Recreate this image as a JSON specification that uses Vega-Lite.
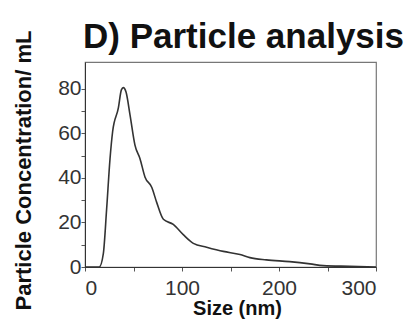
{
  "$schema": "https://vega.github.io/schema/vega-lite/v6.json",
  "width": 291,
  "height": 205,
  "autosize": "none",
  "padding": {"left": 85, "top": 62, "right": 40, "bottom": 54},
  "background": "white",
  "title": {
    "text": "D) Particle analysis",
    "anchor": "start",
    "frame": "group",
    "font": "Liberation Sans",
    "fontSize": 35,
    "fontWeight": "bold",
    "color": "#111111",
    "offset": -25,
    "dx": -2
  },
  "config": {
    "view": {"stroke": "#777777", "strokeWidth": 1.2},
    "axis": {
      "grid": false,
      "labelFont": "Liberation Sans",
      "titleFont": "Liberation Sans",
      "labelFontSize": 21,
      "labelColor": "#333333",
      "titleFontWeight": "bold",
      "titleColor": "#111111",
      "domainColor": "#333333",
      "tickColor": "#555555",
      "tickSize": 4
    }
  },
  "data": {
    "values": [
      {"size": 0, "conc": 0},
      {"size": 14.7, "conc": 0},
      {"size": 18.9, "conc": 6},
      {"size": 22.3, "conc": 26},
      {"size": 25.8, "conc": 48.6},
      {"size": 28.5, "conc": 60.8},
      {"size": 34.4, "conc": 71.4},
      {"size": 37.5, "conc": 79.5},
      {"size": 39.5, "conc": 80.5},
      {"size": 42.3, "conc": 78.5},
      {"size": 46.4, "conc": 68.3},
      {"size": 51.5, "conc": 54.7},
      {"size": 56.7, "conc": 48.6},
      {"size": 61.9, "conc": 40.3},
      {"size": 68.8, "conc": 35.8},
      {"size": 73.9, "conc": 29},
      {"size": 80.8, "conc": 21.4},
      {"size": 91, "conc": 19.1},
      {"size": 101.3, "conc": 14.5},
      {"size": 111.7, "conc": 10.6},
      {"size": 125.4, "conc": 8.9},
      {"size": 142.6, "conc": 7},
      {"size": 159.8, "conc": 5.6},
      {"size": 170, "conc": 4.2},
      {"size": 187, "conc": 3.2},
      {"size": 211, "conc": 2.4},
      {"size": 232, "conc": 1.4},
      {"size": 245.7, "conc": 0.6},
      {"size": 273, "conc": 0.3},
      {"size": 300, "conc": 0}
    ]
  },
  "mark": {"type": "line", "color": "#333333", "strokeWidth": 1.6, "interpolate": "monotone"},
  "encoding": {
    "x": {
      "field": "size",
      "type": "quantitative",
      "scale": {"domain": [0, 300], "nice": false},
      "axis": {
        "title": "Size (nm)",
        "titleFontSize": 20,
        "titleX": 152,
        "values": [0, 50, 100, 150, 200, 250, 300],
        "labelExpr": "datum.value % 100 === 0 ? datum.label : ''",
        "labelPadding": 6,
        "titlePadding": 0
      }
    },
    "y": {
      "field": "conc",
      "type": "quantitative",
      "scale": {"domain": [0, 92], "nice": false},
      "axis": {
        "title": "Particle Concentration/ mL",
        "titleFontSize": 22,
        "titleY": 108,
        "values": [0, 10, 20, 30, 40, 50, 60, 70, 80],
        "labelExpr": "datum.value % 20 === 0 ? datum.label : ''",
        "labelPadding": 0,
        "titlePadding": 22
      }
    }
  }
}
